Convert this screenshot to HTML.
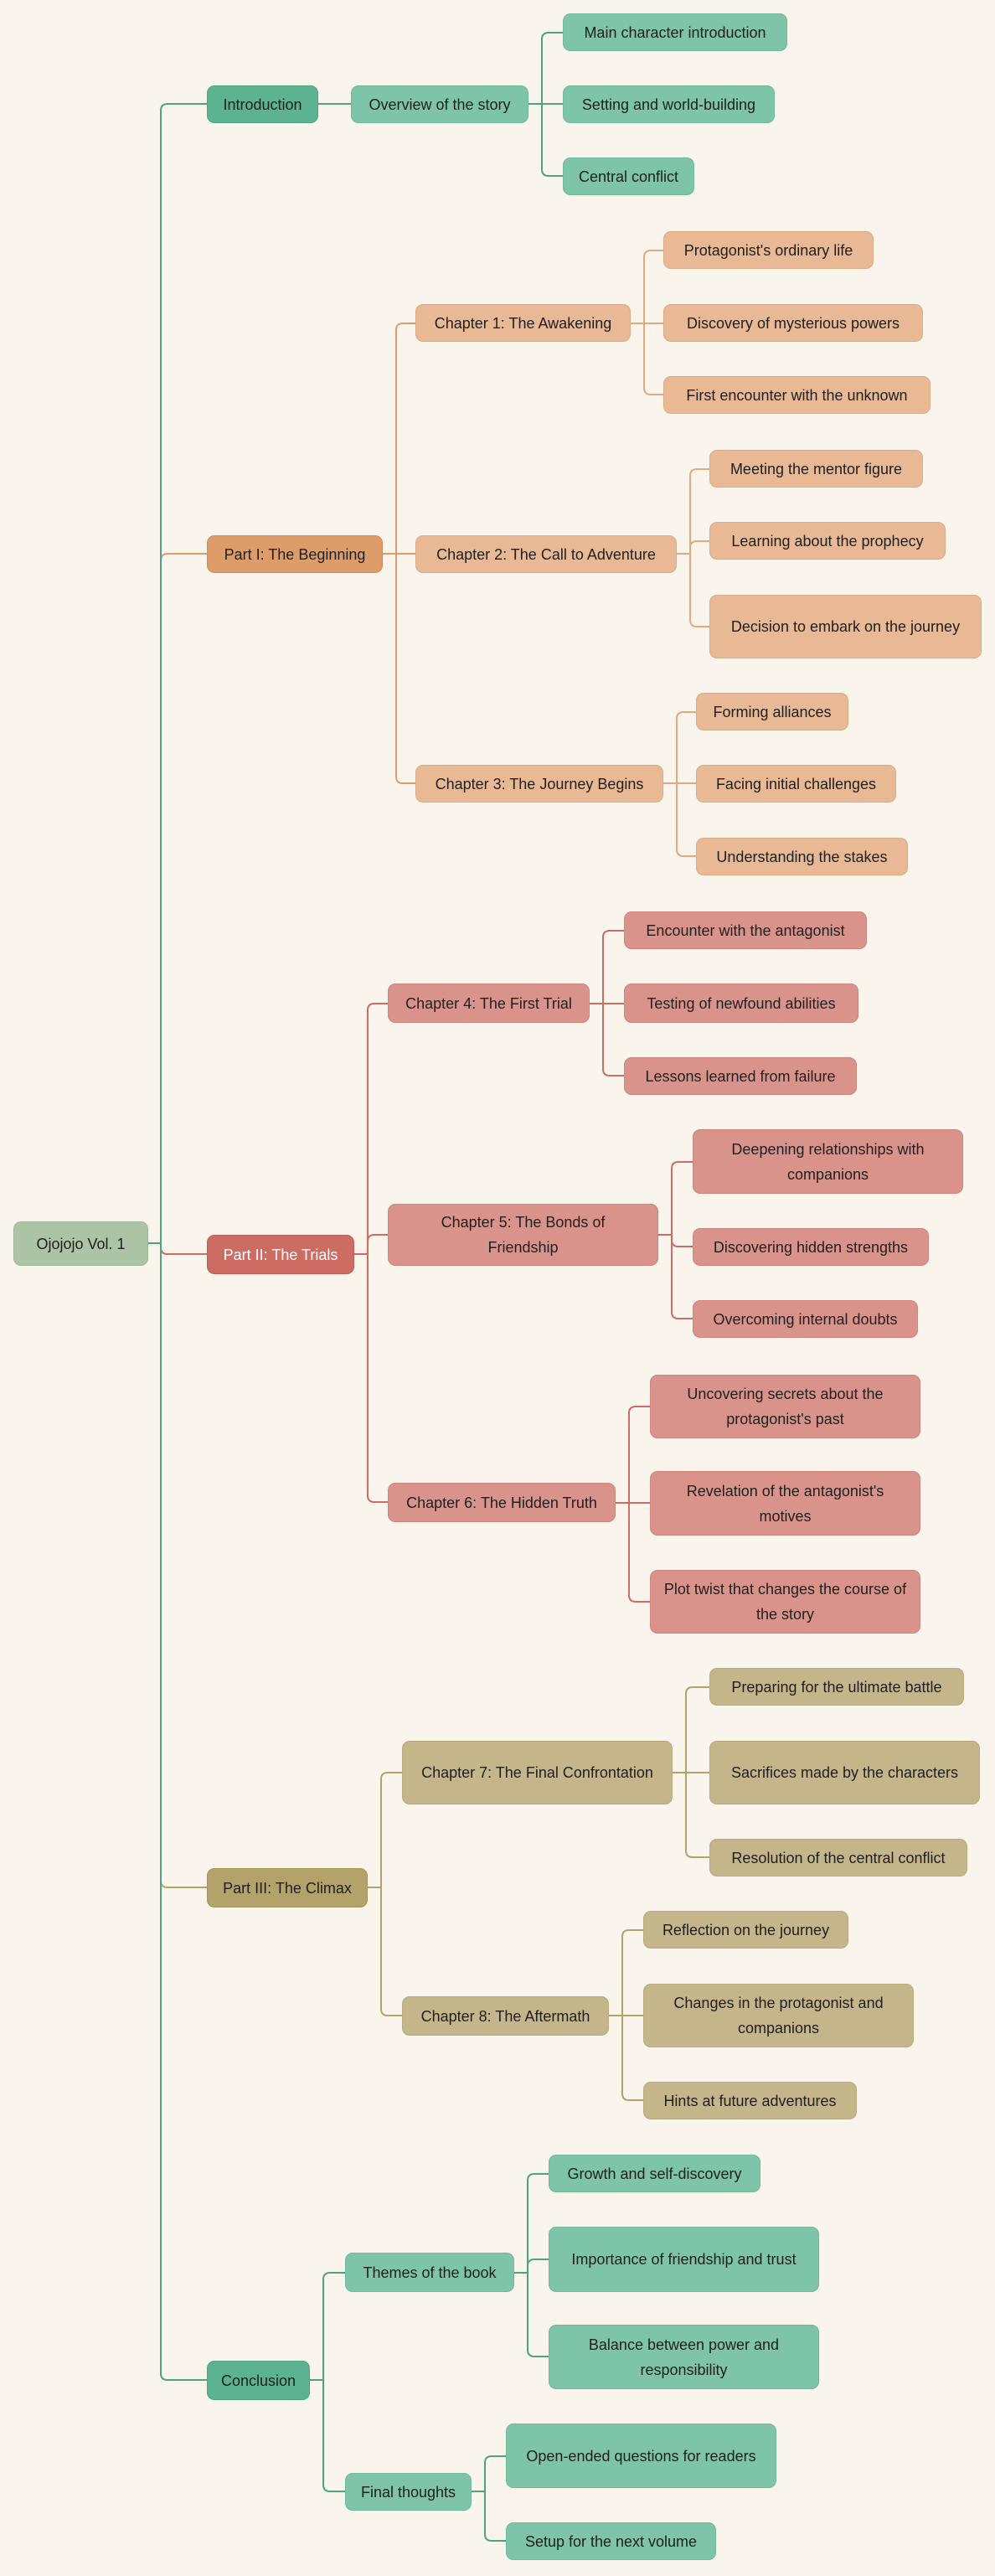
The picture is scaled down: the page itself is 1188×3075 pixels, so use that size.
<!DOCTYPE html>
<html><head><meta charset="utf-8"><style>
html,body{margin:0;padding:0;background:#f9f5ec;}
body{width:1188px;height:3075px;position:relative;overflow:hidden;font-family:"Liberation Sans",sans-serif;}
.n{position:absolute;box-sizing:border-box;border-radius:9px;display:flex;align-items:center;justify-content:center;text-align:center;font-size:18px;line-height:30px;color:#1f1f1f;padding:0 10px;border:1.5px solid rgba(0,0,0,0.08);}
.g1{background:#5bb391;border-color:#4fa382}
.g{background:#7dc4a8;border-color:#72b89c}
.o1{background:#de9c6b;border-color:#cf8d5c}
.o{background:#e8b994;border-color:#dcab86}
.r1{background:#cd6c63;border-color:#bd5e56;color:#fff}
.r{background:#da938a;border-color:#cd857c}
.y1{background:#b4a26b;border-color:#a6945e}
.y{background:#c4b58a;border-color:#b8a97e}
.root{background:#adc3a6;border-color:#9fb598}
svg{position:absolute;left:0;top:0}
path{fill:none;stroke-width:2}
</style></head><body>
<svg width="1188" height="3075">
<g stroke="#de9c6b">
<path d="M177 1484 H192 V669 Q192 661 200 661 H247"/>
<path d="M457 661 H473 V394 Q473 386 481 386 H496"/>
<path d="M457 661 H496"/>
<path d="M457 661 H473 V927 Q473 935 481 935 H496"/>
</g>
<g stroke="#e8b994" style="stroke:#e2a97f">
<path d="M753 386 H769 V307 Q769 299 777 299 H792"/>
<path d="M753 386 H792"/>
<path d="M753 386 H769 V463 Q769 471 777 471 H792"/>
<path d="M808 661 H824 V568 Q824 560 832 560 H847"/>
<path d="M808 661 H824 V654 Q824 646 832 646 H847"/>
<path d="M808 661 H824 V740 Q824 748 832 748 H847"/>
<path d="M792 935 H808 V858 Q808 850 816 850 H831"/>
<path d="M792 935 H831"/>
<path d="M792 935 H808 V1014 Q808 1022 816 1022 H831"/>
</g>
<g stroke="#cd6c63">
<path d="M177 1484 H192 V1489 Q192 1497 200 1497 H247"/>
<path d="M423 1497 H439 V1206 Q439 1198 447 1198 H463"/>
<path d="M423 1497 H439 V1482 Q439 1474 447 1474 H463"/>
<path d="M423 1497 H439 V1785 Q439 1793 447 1793 H463"/>
<path d="M704 1198 H720 V1119 Q720 1111 728 1111 H745"/>
<path d="M704 1198 H745"/>
<path d="M704 1198 H720 V1276 Q720 1284 728 1284 H745"/>
<path d="M786 1474 H802 V1395 Q802 1387 810 1387 H827"/>
<path d="M786 1474 H802 V1480 Q802 1488 810 1488 H827"/>
<path d="M786 1474 H802 V1566 Q802 1574 810 1574 H827"/>
<path d="M735 1794 H751 V1687 Q751 1679 759 1679 H776"/>
<path d="M735 1794 H776"/>
<path d="M735 1794 H751 V1904 Q751 1912 759 1912 H776"/>
</g>
<g stroke="#b4a26b">
<path d="M177 1484 H192 V2245 Q192 2253 200 2253 H247"/>
<path d="M439 2253 H455 V2124 Q455 2116 463 2116 H480"/>
<path d="M439 2253 H455 V2398 Q455 2406 463 2406 H480"/>
<path d="M803 2116 H819 V2022 Q819 2014 827 2014 H847"/>
<path d="M803 2116 H847"/>
<path d="M803 2116 H819 V2209 Q819 2217 827 2217 H847"/>
<path d="M727 2406 H743 V2312 Q743 2304 751 2304 H768"/>
<path d="M727 2406 H768"/>
<path d="M727 2406 H743 V2499 Q743 2507 751 2507 H768"/>
</g>
<g stroke="#4fa382">
<path d="M177 1484 H192 V132 Q192 124 200 124 H247"/>
<path d="M177 1484 H192 V2833 Q192 2841 200 2841 H247"/>
<path d="M380 124 H419"/>
<path d="M631 124 H647 V47 Q647 39 655 39 H672"/>
<path d="M631 124 H672"/>
<path d="M631 124 H647 V202 Q647 210 655 210 H672"/>
<path d="M370 2841 H386 V2721 Q386 2713 394 2713 H412"/>
<path d="M370 2841 H386 V2966 Q386 2974 394 2974 H412"/>
<path d="M614 2713 H630 V2603 Q630 2595 638 2595 H655"/>
<path d="M614 2713 H630 V2705 Q630 2697 638 2697 H655"/>
<path d="M614 2713 H630 V2805 Q630 2813 638 2813 H655"/>
<path d="M563 2974 H579 V2940 Q579 2932 587 2932 H604"/>
<path d="M563 2974 H579 V3025 Q579 3033 587 3033 H604"/>
</g>
</svg>

<div class="n root" style="left:16px;top:1458px;width:161px;height:53px">Ojojojo Vol. 1</div>

<div class="n g1" style="left:247px;top:102px;width:133px;height:45px">Introduction</div>
<div class="n o1" style="left:247px;top:639px;width:210px;height:45px">Part I: The Beginning</div>
<div class="n r1" style="left:247px;top:1474px;width:176px;height:47px">Part II: The Trials</div>
<div class="n y1" style="left:247px;top:2230px;width:192px;height:47px">Part III: The Climax</div>
<div class="n g1" style="left:247px;top:2818px;width:123px;height:47px">Conclusion</div>

<div class="n g" style="left:419px;top:102px;width:212px;height:45px">Overview of the story</div>
<div class="n o" style="left:496px;top:363px;width:257px;height:45px">Chapter 1: The Awakening</div>
<div class="n o" style="left:496px;top:639px;width:312px;height:45px">Chapter 2: The Call to Adventure</div>
<div class="n o" style="left:496px;top:913px;width:296px;height:45px">Chapter 3: The Journey Begins</div>
<div class="n r" style="left:463px;top:1174px;width:241px;height:47px">Chapter 4: The First Trial</div>
<div class="n r" style="left:463px;top:1437px;width:323px;height:74px;padding:0 48px">Chapter 5: The Bonds of Friendship</div>
<div class="n r" style="left:463px;top:1770px;width:272px;height:47px">Chapter 6: The Hidden Truth</div>
<div class="n y" style="left:480px;top:2078px;width:323px;height:76px">Chapter 7: The Final Confrontation</div>
<div class="n y" style="left:480px;top:2383px;width:247px;height:47px">Chapter 8: The Aftermath</div>
<div class="n g" style="left:412px;top:2689px;width:202px;height:47px">Themes of the book</div>
<div class="n g" style="left:412px;top:2952px;width:151px;height:45px">Final thoughts</div>

<div class="n g" style="left:672px;top:16px;width:268px;height:45px">Main character introduction</div>
<div class="n g" style="left:672px;top:102px;width:253px;height:45px">Setting and world-building</div>
<div class="n g" style="left:672px;top:188px;width:157px;height:45px">Central conflict</div>
<div class="n o" style="left:792px;top:276px;width:251px;height:45px">Protagonist's ordinary life</div>
<div class="n o" style="left:792px;top:363px;width:310px;height:45px">Discovery of mysterious powers</div>
<div class="n o" style="left:792px;top:449px;width:319px;height:45px">First encounter with the unknown</div>
<div class="n o" style="left:847px;top:537px;width:255px;height:45px">Meeting the mentor figure</div>
<div class="n o" style="left:847px;top:623px;width:282px;height:45px">Learning about the prophecy</div>
<div class="n o" style="left:847px;top:710px;width:325px;height:76px">Decision to embark on the journey</div>
<div class="n o" style="left:831px;top:827px;width:182px;height:45px">Forming alliances</div>
<div class="n o" style="left:831px;top:913px;width:239px;height:45px">Facing initial challenges</div>
<div class="n o" style="left:831px;top:1000px;width:253px;height:45px">Understanding the stakes</div>
<div class="n r" style="left:745px;top:1088px;width:290px;height:45px">Encounter with the antagonist</div>
<div class="n r" style="left:745px;top:1174px;width:280px;height:47px">Testing of newfound abilities</div>
<div class="n r" style="left:745px;top:1262px;width:278px;height:45px">Lessons learned from failure</div>
<div class="n r" style="left:827px;top:1348px;width:323px;height:77px">Deepening relationships with companions</div>
<div class="n r" style="left:827px;top:1466px;width:282px;height:45px">Discovering hidden strengths</div>
<div class="n r" style="left:827px;top:1552px;width:269px;height:45px">Overcoming internal doubts</div>
<div class="n r" style="left:776px;top:1641px;width:323px;height:76px">Uncovering secrets about the protagonist's past</div>
<div class="n r" style="left:776px;top:1756px;width:323px;height:77px">Revelation of the antagonist's motives</div>
<div class="n r" style="left:776px;top:1874px;width:323px;height:76px">Plot twist that changes the course of the story</div>
<div class="n y" style="left:847px;top:1991px;width:304px;height:45px">Preparing for the ultimate battle</div>
<div class="n y" style="left:847px;top:2078px;width:323px;height:76px">Sacrifices made by the characters</div>
<div class="n y" style="left:847px;top:2195px;width:308px;height:45px">Resolution of the central conflict</div>
<div class="n y" style="left:768px;top:2281px;width:245px;height:45px">Reflection on the journey</div>
<div class="n y" style="left:768px;top:2368px;width:323px;height:76px">Changes in the protagonist and companions</div>
<div class="n y" style="left:768px;top:2485px;width:255px;height:45px">Hints at future adventures</div>
<div class="n g" style="left:655px;top:2572px;width:253px;height:45px">Growth and self-discovery</div>
<div class="n g" style="left:655px;top:2658px;width:323px;height:78px">Importance of friendship and trust</div>
<div class="n g" style="left:655px;top:2775px;width:323px;height:77px">Balance between power and responsibility</div>
<div class="n g" style="left:604px;top:2893px;width:323px;height:77px">Open-ended questions for readers</div>
<div class="n g" style="left:604px;top:3011px;width:251px;height:45px">Setup for the next volume</div>
</body></html>
